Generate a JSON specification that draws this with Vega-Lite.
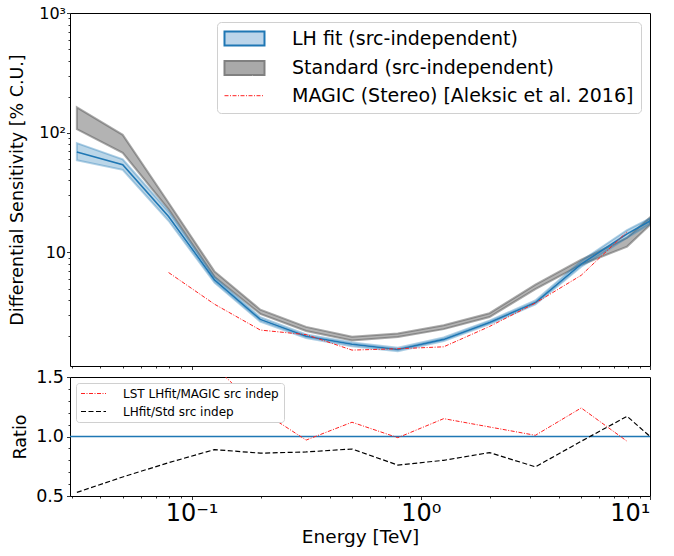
{
  "$schema": "https://vega.github.io/schema/vega-lite/v6.json",
  "background": "white",
  "padding": {"left": 8, "top": 4, "right": 5, "bottom": 5},
  "spacing": 11,
  "bounds": "flush",
  "resolve": {
    "scale": {"color": "independent", "x": "independent", "y": "independent"},
    "legend": {"color": "independent"}
  },
  "config": {
    "font": "DejaVu Sans",
    "view": {"stroke": "#000", "strokeWidth": 1},
    "axis": {
      "grid": false,
      "domain": false,
      "tickColor": "#000",
      "tickWidth": 0.8,
      "labelColor": "#000",
      "titleColor": "#000",
      "titleFontWeight": "normal",
      "labelOverlap": false,
      "labelPadding": 3
    },
    "legend": {"labelLimit": 0}
  },
  "datasets": {
    "sens": [
      {"E": 0.0316, "lh": 69, "lh_lo": 59, "lh_hi": 82, "std": 132, "std_lo": 107, "std_hi": 163, "magic": null},
      {"E": 0.0501, "lh": 54, "lh_lo": 49, "lh_hi": 60, "std": 81, "std_lo": 68, "std_hi": 96, "magic": null},
      {"E": 0.0794, "lh": 20, "lh_lo": 18.4, "lh_hi": 22, "std": 24.5, "std_lo": 22.9, "std_hi": 26, "magic": 6.8},
      {"E": 0.1259, "lh": 5.9, "lh_lo": 5.6, "lh_hi": 6.2, "std": 6.6, "std_lo": 6.25, "std_hi": 6.95, "magic": 3.7},
      {"E": 0.1995, "lh": 2.76, "lh_lo": 2.65, "lh_hi": 2.88, "std": 3.2, "std_lo": 3.07, "std_hi": 3.33, "magic": 2.25},
      {"E": 0.3162, "lh": 2.0, "lh_lo": 1.93, "lh_hi": 2.07, "std": 2.3, "std_lo": 2.21, "std_hi": 2.39, "magic": 2.06},
      {"E": 0.5012, "lh": 1.71, "lh_lo": 1.65, "lh_hi": 1.77, "std": 1.91, "std_lo": 1.84, "std_hi": 1.98, "magic": 1.53},
      {"E": 0.7943, "lh": 1.55, "lh_lo": 1.5, "lh_hi": 1.6, "std": 2.04, "std_lo": 1.97, "std_hi": 2.11, "magic": 1.57},
      {"E": 1.2589, "lh": 1.88, "lh_lo": 1.82, "lh_hi": 1.95, "std": 2.38, "std_lo": 2.29, "std_hi": 2.47, "magic": 1.63},
      {"E": 1.9953, "lh": 2.6, "lh_lo": 2.52, "lh_hi": 2.7, "std": 3.0, "std_lo": 2.89, "std_hi": 3.11, "magic": 2.41},
      {"E": 3.1623, "lh": 3.82, "lh_lo": 3.68, "lh_hi": 3.97, "std": 5.15, "std_lo": 4.95, "std_hi": 5.38, "magic": 3.78},
      {"E": 5.0119, "lh": 8.0, "lh_lo": 7.6, "lh_hi": 8.5, "std": 8.3, "std_lo": 7.9, "std_hi": 8.7, "magic": 6.45},
      {"E": 7.9433, "lh": 14.3, "lh_lo": 13.3, "lh_hi": 15.4, "std": 12.2, "std_lo": 11.2, "std_hi": 13.3, "magic": 14.9},
      {"E": 10, "lh": 18.3, "lh_lo": 17.3, "lh_hi": 19.3, "std": 18.3, "std_lo": 17.0, "std_hi": 19.7, "magic": null}
    ],
    "ratio": [
      {"E": 0.0316, "r_magic": null, "r_std": 0.53},
      {"E": 0.0501, "r_magic": null, "r_std": 0.66},
      {"E": 0.0794, "r_magic": 2.9, "r_std": 0.78},
      {"E": 0.1259, "r_magic": 1.59, "r_std": 0.89},
      {"E": 0.1995, "r_magic": 1.22, "r_std": 0.86},
      {"E": 0.3162, "r_magic": 0.97, "r_std": 0.87},
      {"E": 0.5012, "r_magic": 1.12, "r_std": 0.895},
      {"E": 0.7943, "r_magic": 0.99, "r_std": 0.76},
      {"E": 1.2589, "r_magic": 1.15, "r_std": 0.8},
      {"E": 1.9953, "r_magic": 1.08, "r_std": 0.865},
      {"E": 3.1623, "r_magic": 1.01, "r_std": 0.745},
      {"E": 5.0119, "r_magic": 1.24, "r_std": 0.96},
      {"E": 7.9433, "r_magic": 0.96, "r_std": 1.17},
      {"E": 10, "r_magic": null, "r_std": 1.0}
    ],
    "unity": [
      {"r": 1}
    ]
  },
  "vconcat": [
    {
      "width": 580,
      "height": 353,
      "data": {"name": "sens"},
      "layer": [
        {
          "mark": {"type": "area", "fill": "#808080", "fillOpacity": 0.6, "stroke": "#555555", "strokeOpacity": 0.5, "strokeWidth": 2, "clip": true},
          "encoding": {
            "x": {
              "field": "E",
              "type": "quantitative",
              "scale": {"type": "log", "domain": [0.0295, 10], "nice": false},
              "axis": {
                "title": null,
                "labels": false,
                "values": [0.03, 0.04, 0.05, 0.06, 0.07, 0.08, 0.09, 0.1, 0.2, 0.3, 0.4, 0.5, 0.6, 0.7, 0.8, 0.9, 1, 2, 3, 4, 5, 6, 7, 8, 9, 10],
                "tickSize": {"condition": {"test": "datum.value == 0.1 || datum.value == 1 || datum.value == 10", "value": 3.5}, "value": 2}
              }
            },
            "y": {
              "field": "std_lo",
              "type": "quantitative",
              "scale": {"type": "log", "domain": [1.127, 1000], "nice": false},
              "axis": {
                "title": "Differential Sensitivity [% C.U.]",
                "titleFontSize": 17.5,
                "titlePadding": 12,
                "labelFontSize": {"condition": {"test": "datum.value == 10 || datum.value == 100 || datum.value == 1000", "value": 16}, "value": 1},
                "labelPadding": 1,
                "labelOverlap": false,
                "values": [2, 3, 4, 5, 6, 7, 8, 9, 10, 20, 30, 40, 50, 60, 70, 80, 90, 100, 200, 300, 400, 500, 600, 700, 800, 900, 1000],
                "labelExpr": "datum.value == 1000 ? '10³' : datum.value == 100 ? '10²' : datum.value == 10 ? '10' : ''",
                "tickSize": {"condition": {"test": "datum.value == 10 || datum.value == 100 || datum.value == 1000", "value": 3.5}, "value": 2}
              }
            },
            "y2": {"field": "std_hi"}
          }
        },
        {
          "mark": {"type": "area", "fill": "#1f77b4", "fillOpacity": 0.3, "stroke": "#1f77b4", "strokeOpacity": 0.35, "strokeWidth": 2, "clip": true},
          "encoding": {
            "x": {"field": "E", "type": "quantitative"},
            "y": {"field": "lh_lo", "type": "quantitative"},
            "y2": {"field": "lh_hi"}
          }
        },
        {
          "mark": {"type": "line", "strokeWidth": 1.6, "clip": true},
          "encoding": {
            "x": {"field": "E", "type": "quantitative"},
            "y": {"field": "lh", "type": "quantitative"},
            "color": {
              "datum": "LH fit (src-independent)",
              "scale": {
                "domain": ["LH fit (src-independent)", "Standard (src-independent)", "MAGIC (Stereo) [Aleksic et al. 2016]"],
                "range": ["#1f77b4", "#808080", "#ff2020"]
              },
              "legend": {
                "title": null,
                "orient": "top-right",
                "offset": 9,
                "labelFontSize": 19,
                "labelFont": "DejaVu Sans",
                "labelColor": "#000",
                "symbolType": "M-2.857,-1H2.857V1H-2.857Z",
                "symbolSize": 196,
                "symbolStrokeWidth": 2,
                "symbolOffset": 11,
                "labelOffset": 38,
                "rowPadding": 6.6,
                "padding": 7,
                "strokeColor": "#d0d0d0",
                "fillColor": "white",
                "cornerRadius": 4,
                "encode": {
                  "symbols": {
                    "update": {
                      "shape": {"signal": "datum.value == 'MAGIC (Stereo) [Aleksic et al. 2016]' ? 'M-2.857,0H2.857' : 'M-2.857,-1H2.857V1H-2.857Z'"},
                      "fill": {"signal": "datum.value == 'LH fit (src-independent)' ? '#bcd5ea' : datum.value == 'Standard (src-independent)' ? '#a9a9a9' : 'transparent'"},
                      "stroke": {"signal": "datum.value == 'LH fit (src-independent)' ? '#7eaed6' : datum.value == 'Standard (src-independent)' ? '#6e6e6e' : '#ff2020'"},
                      "strokeWidth": {"signal": "datum.value == 'MAGIC (Stereo) [Aleksic et al. 2016]' ? 1 : 2"},
                      "strokeDash": {"signal": "datum.value == 'MAGIC (Stereo) [Aleksic et al. 2016]' ? [4, 1.5, 1, 1.5] : [1, 0]"},
                      "opacity": {"value": 1},
                      "fillOpacity": {"value": 1},
                      "strokeOpacity": {"value": 1}
                    }
                  }
                }
              }
            }
          }
        },
        {
          "mark": {"type": "line", "color": "#ff2020", "strokeWidth": 1, "strokeDash": [4, 1.5, 1, 1.5], "clip": true},
          "encoding": {
            "x": {"field": "E", "type": "quantitative"},
            "y": {"field": "magic", "type": "quantitative"}
          }
        }
      ]
    },
    {
      "width": 580,
      "height": 119,
      "resolve": {"axis": {"y": "independent"}},
      "layer": [
        {
          "data": {"name": "unity"},
          "mark": {"type": "rule", "color": "#1f77b4", "strokeWidth": 1.5},
          "encoding": {
            "y": {
              "field": "r",
              "type": "quantitative",
              "scale": {"domain": [0.5, 1.5], "nice": false, "zero": false},
              "axis": {
                "orient": "left",
                "title": "Ratio",
                "titleFontSize": 17.5,
                "titlePadding": 6,
                "labelFontSize": 17.5,
                "labelPadding": 3,
                "values": [0.5, 1, 1.5],
                "format": ".1f",
                "tickSize": 3.5
              }
            }
          }
        },
        {
          "data": {"name": "ratio"},
          "mark": {"type": "line", "strokeWidth": 1, "strokeDash": [4, 1.5, 1, 1.5], "clip": true},
          "encoding": {
            "x": {
              "field": "E",
              "type": "quantitative",
              "scale": {"type": "log", "domain": [0.0295, 10], "nice": false},
              "axis": {
                "title": "Energy [TeV]",
                "titleFontSize": 18.5,
                "titlePadding": 2,
                "labelFontSize": {"condition": {"test": "datum.value == 0.1 || datum.value == 1 || datum.value == 10", "value": 24}, "value": 1},
                "labelPadding": 2,
                "values": [0.03, 0.04, 0.05, 0.06, 0.07, 0.08, 0.09, 0.1, 0.2, 0.3, 0.4, 0.5, 0.6, 0.7, 0.8, 0.9, 1, 2, 3, 4, 5, 6, 7, 8, 9, 10],
                "labelExpr": "datum.value == 0.1 ? '10⁻¹' : datum.value == 1 ? '10⁰' : datum.value == 10 ? '10¹' : ''",
                "tickSize": {"condition": {"test": "datum.value == 0.1 || datum.value == 1 || datum.value == 10", "value": 3.5}, "value": 2}
              }
            },
            "y": {
              "field": "r_magic",
              "type": "quantitative",
              "axis": {
                "orient": "left",
                "title": null,
                "labels": false,
                "values": [0.6, 0.7, 0.8, 0.9, 1.1, 1.2, 1.3, 1.4],
                "tickSize": 2
              }
            },
            "color": {
              "datum": "LST LHfit/MAGIC src indep",
              "scale": {"domain": ["LST LHfit/MAGIC src indep", "LHfit/Std src indep"], "range": ["#ff2020", "#000000"]},
              "legend": {
                "title": null,
                "orient": "top-left",
                "offset": 6,
                "labelFontSize": 12,
                "labelFont": "DejaVu Sans",
                "labelColor": "#000",
                "symbolSize": 100,
                "symbolStrokeWidth": 1.2,
                "symbolOffset": 7,
                "labelOffset": 23.5,
                "rowPadding": 6,
                "padding": 4.5,
                "strokeColor": "#d0d0d0",
                "fillColor": "white",
                "cornerRadius": 3,
                "encode": {
                  "symbols": {
                    "update": {
                      "shape": {"value": "M-2.5,0H2.5"},
                      "fill": {"value": "transparent"},
                      "stroke": {"signal": "datum.value == 'LHfit/Std src indep' ? '#000' : '#ff2020'"},
                      "strokeWidth": {"value": 1.2},
                      "strokeDash": {"signal": "datum.value == 'LHfit/Std src indep' ? [5, 2.5] : [4, 1.5, 1, 1.5]"},
                      "opacity": {"value": 1},
                      "strokeOpacity": {"value": 1}
                    }
                  }
                }
              }
            }
          }
        },
        {
          "data": {"name": "ratio"},
          "mark": {"type": "line", "strokeWidth": 1.2, "strokeDash": [5, 2.5], "clip": true},
          "encoding": {
            "x": {"field": "E", "type": "quantitative"},
            "y": {"field": "r_std", "type": "quantitative", "axis": null},
            "color": {"datum": "LHfit/Std src indep"}
          }
        }
      ]
    }
  ]
}
